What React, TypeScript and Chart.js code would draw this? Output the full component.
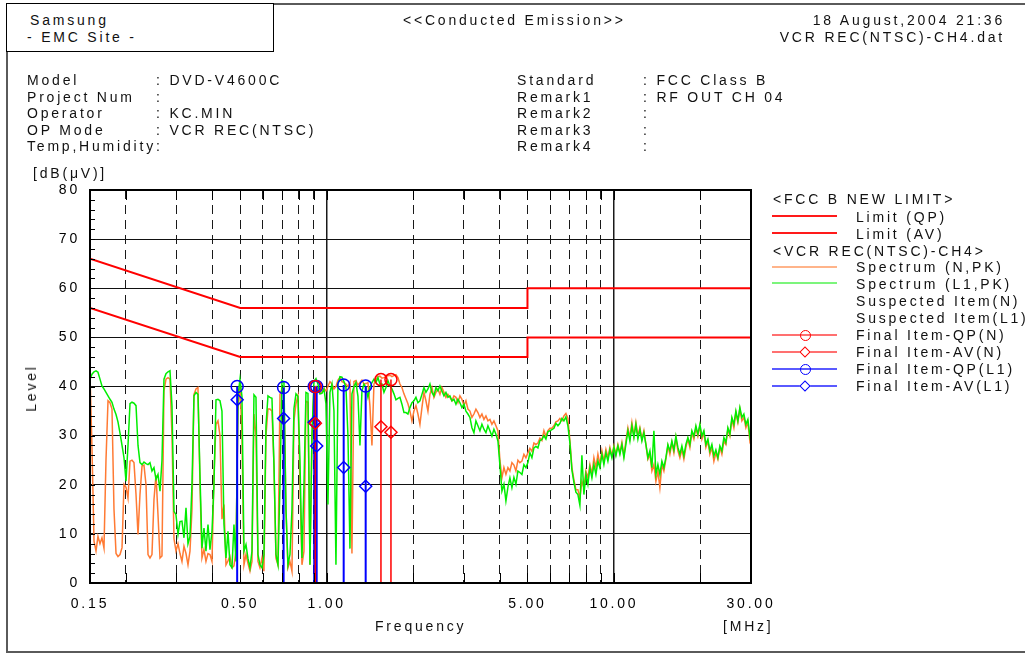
import React, { useEffect, useRef } from 'react';
import { Chart, registerables } from 'chart.js';

Chart.register(...registerables);

const FONT = '"Liberation Sans", Arial, Helvetica, sans-serif';
const SPACING = 2.8;

// ---------- Spectrum data (frequency in MHz, level in dB(uV)) ----------
const freqs = [
  0.1500, 0.1524, 0.1549, 0.1574, 0.1599,
  0.1625, 0.1651, 0.1678, 0.1705, 0.1733,
  0.1761, 0.1789, 0.1818, 0.1848, 0.1877,
  0.1908, 0.1939, 0.1970, 0.2002, 0.2034,
  0.2067, 0.2100, 0.2134, 0.2169, 0.2204,
  0.2239, 0.2276, 0.2312, 0.2350, 0.2388,
  0.2426, 0.2465, 0.2505, 0.2546, 0.2587,
  0.2629, 0.2671, 0.2714, 0.2758, 0.2803,
  0.2848, 0.2894, 0.2941, 0.2988, 0.3037,
  0.3086, 0.3135, 0.3186, 0.3238, 0.3290,
  0.3343, 0.3397, 0.3452, 0.3508, 0.3564,
  0.3622, 0.3680, 0.3740, 0.3800, 0.3862,
  0.3924, 0.3988, 0.4052, 0.4118, 0.4184,
  0.4252, 0.4320, 0.4390, 0.4461, 0.4533,
  0.4606, 0.4681, 0.4756, 0.4833, 0.4911,
  0.4991, 0.5071, 0.5153, 0.5237, 0.5321,
  0.5407, 0.5495, 0.5583, 0.5674, 0.5765,
  0.5858, 0.5953, 0.6049, 0.6147, 0.6246,
  0.6347, 0.6450, 0.6554, 0.6660, 0.6768,
  0.6877, 0.6988, 0.7101, 0.7216, 0.7332,
  0.7451, 0.7571, 0.7693, 0.7818, 0.7944,
  0.8072, 0.8203, 0.8335, 0.8470, 0.8607,
  0.8746, 0.8887, 0.9031, 0.9177, 0.9325,
  0.9475, 0.9629, 0.9784, 0.9942, 1.0103,
  1.0266, 1.0432, 1.0601, 1.0772, 1.0946,
  1.1123, 1.1302, 1.1485, 1.1671, 1.1860,
  1.2051, 1.2245, 1.2444, 1.2645, 1.2849,
  1.3056, 1.3267, 1.3482, 1.3700, 1.3921,
  1.4146, 1.4374, 1.4607, 1.4843, 1.5083,
  1.5326, 1.5574, 1.5825, 1.6081, 1.6341,
  1.6605, 1.6873, 1.7146, 1.7423, 1.7705,
  1.7990, 1.8281, 1.8577, 1.8877, 1.9182,
  1.9491, 1.9806, 2.0126, 2.0452, 2.0782,
  2.1118, 2.1459, 2.1806, 2.2158, 2.2517,
  2.2880, 2.3249, 2.3625, 2.4007, 2.4395,
  2.4789, 2.5189, 2.5597, 2.6011, 2.6431,
  2.6857, 2.7291, 2.7733, 2.8181, 2.8637,
  2.9098, 2.9568, 3.0046, 3.0532, 3.1026,
  3.1526, 3.2035, 3.2553, 3.3080, 3.3614,
  3.4157, 3.4709, 3.5270, 3.5840, 3.6420,
  3.7007, 3.7605, 3.8213, 3.8830, 3.9458,
  4.0094, 4.0742, 4.1401, 4.2070, 4.2750,
  4.3440, 4.4142, 4.4856, 4.5581, 4.6317,
  4.7064, 4.7825, 4.8598, 4.9384, 5.0182,
  5.0991, 5.1815, 5.2653, 5.3504, 5.4369,
  5.5246, 5.6139, 5.7046, 5.7968, 5.8905,
  5.9856, 6.0823, 6.1807, 6.2806, 6.3821,
  6.4850, 6.5898, 6.6963, 6.8046, 6.9146,
  7.0261, 7.1397, 7.2551, 7.3723, 7.4915,
  7.6123, 7.7354, 7.8604, 7.9874, 8.1165,
  8.2475, 8.3808, 8.5163, 8.6540, 8.7938,
  8.9357, 9.0801, 9.2269, 9.3760, 9.5276,
  9.6813, 9.8378, 9.9968, 10.158, 10.323,
  10.489, 10.659, 10.831, 11.006, 11.184,
  11.364, 11.548, 11.735, 11.924, 12.117,
  12.313, 12.512, 12.714, 12.919, 13.128,
  13.340, 13.556, 13.775, 13.997, 14.224,
  14.453, 14.687, 14.924, 15.165, 15.410,
  15.659, 15.912, 16.169, 16.431, 16.696,
  16.966, 17.240, 17.518, 17.802, 18.089,
  18.381, 18.678, 18.980, 19.287, 19.599,
  19.915, 20.237, 20.564, 20.896, 21.234,
  21.577, 21.925, 22.280, 22.640, 23.006,
  23.377, 23.755, 24.139, 24.529, 24.925,
  25.327, 25.737, 26.153, 26.575, 27.005,
  27.441, 27.884, 28.335, 28.793, 29.258,
  29.730, 30.000,
];

const levelL1 = [
  41.5, 42.5, 43.0, 43.2, 42.9,
  41.5, 40.1, 39.5, 38.8, 38.1,
  37.4, 36.8, 35.4, 34.3, 32.8,
  30.5, 28.0, 25.5, 20.7, 28.0,
  36.5, 36.8, 36.6, 36.1, 28.0,
  24.5, 24.1, 24.6, 24.3, 24.1,
  24.5, 22.8, 23.5, 21.1, 22.1,
  18.7, 25.0, 41.5, 42.6, 43.0,
  43.2, 36.0, 14.6, 13.9, 9.9,
  12.5, 12.6, 9.2, 15.3, 8.0,
  9.5, 20.0, 38.1, 38.8, 38.4,
  22.0, 7.1, 11.2, 6.5, 11.9,
  6.8, 10.5, 20.0, 37.3, 37.4,
  37.1, 35.0, 12.0, 5.1, 10.5,
  3.7, 3.1, 11.9, 4.4, 38.0,
  41.5, 38.0, 6.5, 7.8, 5.0,
  3.1, 6.5, 38.3, 37.8, 5.8,
  3.7, 3.1, 5.8, 32.0, 38.1,
  37.8, 37.6, 24.1, 5.8, 3.7,
  20.0, 41.2, 40.8, 15.0, 3.7,
  5.8, 15.0, 35.5, 38.5, 38.0,
  25.0, 5.1, 20.0, 38.8, 38.6,
  3.7, 30.0, 41.0, 41.6, 40.5,
  38.5, 38.6, 39.5, 36.5, 16.0,
  38.8, 40.5, 35.0, 3.7, 40.5,
  42.0, 41.9, 41.0, 39.8, 30.0,
  7.0, 38.5, 40.0, 40.8, 38.0,
  28.0, 39.1, 40.5, 39.8, 37.8,
  39.8, 40.8, 41.5, 40.8, 41.8,
  40.5, 40.5, 38.8, 39.8, 41.2,
  40.1, 39.5, 38.5, 37.3, 37.6,
  37.8, 36.4, 34.7, 34.7, 34.4,
  35.7, 36.7, 37.1, 37.8, 36.7,
  37.1, 38.4, 39.8, 38.8, 39.5,
  40.5, 38.8, 38.1, 39.8, 39.1,
  40.1, 39.1, 38.1, 38.8, 37.8,
  38.1, 37.1, 37.4, 36.4, 37.4,
  36.7, 35.7, 36.4, 35.0, 34.4,
  33.7, 31.6, 30.6, 33.0, 32.0,
  31.0, 32.3, 31.3, 30.6, 32.0,
  31.0, 29.9, 31.3, 30.3, 28.9,
  24.0, 18.7, 20.1, 16.7, 19.5,
  21.4, 19.4, 21.5, 20.1, 22.8,
  22.5, 22.1, 24.1, 23.5, 24.5,
  26.5, 25.5, 27.5, 27.8, 27.5,
  29.0, 29.2, 30.0, 29.3, 30.8,
  31.0, 31.2, 31.5, 32.5, 32.0,
  32.5, 33.5, 33.0, 33.8, 32.0,
  28.5, 23.0, 20.5, 18.5, 18.0,
  15.8, 26.0, 18.0, 22.1, 20.1,
  23.5, 21.4, 24.1, 22.1, 24.8,
  23.5, 26.2, 24.1, 26.5, 24.8,
  27.1, 25.5, 27.6, 25.9, 27.9,
  26.2, 28.2, 25.5, 28.2, 31.0,
  28.9, 32.0, 29.6, 32.3, 29.3,
  31.3, 28.9, 30.6, 28.2, 25.5,
  26.9, 23.5, 31.0, 22.1, 24.1,
  22.1, 24.8, 23.5, 25.5, 28.2,
  26.9, 28.9, 27.1, 29.9, 27.6,
  26.2, 27.9, 25.9, 28.2, 29.6,
  28.2, 31.0, 29.9, 32.0, 30.3,
  32.3, 29.9, 31.0, 28.2, 29.3,
  26.9, 28.2, 25.9, 27.1, 25.5,
  27.9, 26.9, 29.6, 28.6, 31.6,
  30.3, 33.7, 32.3, 35.0, 33.0,
  35.7, 33.7, 34.4, 32.3, 33.3,
  29.9, 31.0,
];

const levelN = [
  42.5, 27.6, 8.5, 6.5, 9.5,
  8.0, 9.2, 7.1, 25.0, 37.1,
  36.7, 35.4, 15.0, 6.0, 5.4,
  5.8, 7.2, 20.1, 19.5, 17.3,
  24.8, 25.0, 24.5, 18.0, 9.9,
  18.0, 23.8, 24.0, 20.0, 5.8,
  5.1, 5.8, 17.0, 22.0, 13.9,
  5.1, 5.5, 39.1, 41.5, 41.8,
  41.5, 30.0, 9.0, 6.5, 8.0,
  6.0, 4.4, 7.5, 6.0, 3.7,
  6.5, 15.0, 38.4, 39.5, 39.8,
  20.0, 5.1, 6.8, 4.4, 6.0,
  5.8, 4.4, 22.0, 32.3, 33.0,
  30.0, 13.0, 16.0, 3.7, 4.5,
  5.4, 3.1, 3.5, 6.5, 35.0,
  40.5, 30.0, 3.7, 5.8, 4.0,
  2.4, 4.4, 34.4, 30.0, 4.4,
  3.1, 5.1, 2.4, 30.0, 35.4,
  35.4, 35.0, 24.1, 5.0, 3.7,
  38.4, 39.5, 39.1, 15.0, 3.1,
  4.4, 2.4, 33.0, 36.5, 38.1,
  20.0, 3.7, 6.5, 37.0, 36.8,
  3.7, 30.0, 39.5, 40.0, 39.0,
  38.6, 39.0, 39.6, 39.1, 40.0,
  41.0, 40.5, 39.5, 40.0, 41.3,
  41.8, 41.0, 40.8, 40.5, 40.0,
  40.9, 6.0, 41.0, 41.2, 40.3,
  40.8, 41.3, 40.5, 40.6, 40.8,
  36.0, 28.0, 40.5, 41.5, 42.0,
  42.1, 41.7, 41.8, 42.0, 42.2,
  42.3, 42.0, 42.2, 42.4, 41.8,
  40.5, 39.8, 38.5, 37.5, 36.5,
  35.0, 33.0, 35.0, 36.1, 34.4,
  32.3, 35.7, 38.8, 37.1, 35.0,
  38.4, 39.8, 37.8, 38.8, 39.5,
  38.4, 39.8, 38.8, 37.8, 38.4,
  37.8, 37.1, 38.1, 37.8, 36.7,
  38.1, 37.4, 36.1, 37.1, 35.4,
  35.0, 33.7, 34.4, 35.4, 34.7,
  33.7, 34.4, 33.3, 34.0, 33.0,
  33.3, 32.3, 33.0, 32.0, 31.0,
  25.0, 21.4, 23.5, 22.1, 23.5,
  22.8, 24.5, 24.0, 22.8, 25.0,
  24.5, 24.8, 26.2, 25.5, 26.5,
  27.4, 26.8, 28.5, 28.2, 28.5,
  29.5, 29.0, 31.0, 29.8, 31.0,
  31.5, 31.5, 32.0, 32.8, 33.0,
  33.5, 33.0, 34.0, 34.5, 33.5,
  29.0, 23.5, 21.0, 19.0, 19.0,
  17.3, 20.7, 19.4, 22.8, 21.4,
  24.1, 22.1, 25.5, 23.5, 26.2,
  24.1, 26.9, 24.8, 27.2, 25.5,
  27.6, 25.9, 27.9, 26.2, 28.2,
  26.5, 28.6, 25.9, 28.9, 31.6,
  29.6, 32.7, 29.9, 32.7, 29.9,
  31.6, 29.3, 31.0, 28.2, 25.2,
  26.2, 22.8, 24.1, 20.7, 22.8,
  19.4, 24.1, 22.8, 25.2, 27.9,
  26.2, 28.6, 26.5, 29.6, 26.9,
  25.5, 27.2, 25.2, 27.6, 29.3,
  27.6, 30.6, 29.3, 31.6, 29.9,
  32.0, 29.3, 30.6, 27.6, 28.9,
  26.2, 27.6, 24.8, 26.5, 25.2,
  27.6, 26.2, 28.9, 28.2, 31.3,
  29.9, 33.3, 31.6, 34.7, 32.7,
  35.4, 33.0, 33.7, 31.6, 32.7,
  28.9, 29.6,
];

// ---------- Limits (FCC Class B) ----------
const limitFreq = [0.15, 0.5, 5, 5, 30];
const limitQP = [66, 56, 56, 60, 60];
const limitAV = [56, 46, 46, 50, 50];

// ---------- Final measured items ----------
const finalFreqN = [0.913, 1.545, 1.674];
const finalQPN = [40.0, 41.4, 41.4];
const finalAVN = [32.5, 31.8, 30.7];
const finalFreqL1 = [0.488, 0.708, 0.905, 0.923, 1.146, 1.367];
const finalQPL1 = [40.0, 39.8, 40.0, 40.0, 40.3, 40.1];
const finalAVL1 = [37.3, 33.5, 32.7, 27.9, 23.5, 19.7];

// ---------- Axes ----------
const xGridTicks = [0.15, 0.2, 0.3, 0.4, 0.5, 0.6, 0.7, 0.8, 0.9, 1, 2, 3, 4, 5, 6, 7, 8, 9, 10, 20, 30];
const xTickLabels: Record<string, string> = {
  '0.15': '0.15', '0.5': '0.50', '1': '1.00', '5': '5.00', '10': '10.00', '30': '30.00',
};
const yMin = 0;
const yMax = 80;

// ---------- Header texts ----------
const infoLeftLabels = ['Model', 'Project Num', 'Operator', 'OP Mode', 'Temp,Humidity'];
const infoLeftValues = [': DVD-V4600C', ':', ': KC.MIN', ': VCR REC(NTSC)', ':'];
const infoRightLabels = ['Standard', 'Remark1', 'Remark2', 'Remark3', 'Remark4'];
const infoRightValues = [': FCC Class B', ': RF OUT CH 04', ':', ':', ':'];

const pts = (xs: number[], ys: number[]) => xs.map((x, i) => ({ x, y: ys[i] }));
const stems = (xs: number[], ys: number[]) =>
  xs.flatMap((x, i) => [{ x, y: 0 }, { x, y: ys[i] }, { x, y: null as any }]);

const framePlugin = {
  id: 'emcFrame',
  beforeDraw(chart: any) {
    (chart.ctx as any).letterSpacing = SPACING + 'px';
  },
  afterDraw(chart: any) {
    const { ctx, chartArea: a, scales } = chart;
    ctx.save();
    ctx.strokeStyle = '#000';
    ctx.lineWidth = 1;
    ctx.beginPath();
    scales.y.ticks.forEach((t: any) => {
      const y = Math.round(scales.y.getPixelForValue(t.value)) + 0.5;
      ctx.moveTo(a.left, y);
      ctx.lineTo(a.left + 5, y);
    });
    scales.x.ticks.forEach((t: any) => {
      const x = Math.round(scales.x.getPixelForValue(t.value)) + 0.5;
      ctx.moveTo(x, a.bottom);
      ctx.lineTo(x, a.bottom - 10);
      ctx.moveTo(x, a.top);
      ctx.lineTo(x, a.top + 10);
    });
    ctx.stroke();
    ctx.lineWidth = 2;
    ctx.strokeRect(a.left, a.top, a.right - a.left, a.bottom - a.top);
    ctx.restore();
    (ctx as any).letterSpacing = '0px';
  },
};

const markerDs = (label: string, xs: number[], ys: number[], color: string, style: string) => ({
  label,
  data: pts(xs, ys),
  showLine: false,
  pointStyle: style,
  pointRadius: 6,
  pointBorderWidth: 1.5,
  pointBorderColor: color,
  pointBackgroundColor: 'rgba(0,0,0,0)',
  borderColor: color,
});

const Txt = ({ x, y, children, style }: any) => (
  <div style={{ position: 'absolute', left: x, top: y - 13, lineHeight: '16px', whiteSpace: 'pre', ...style }}>
    {children}
  </div>
);

const LegLine = ({ y, color, w, marker, mcolor }: any) => (
  <>
    <div style={{ position: 'absolute', left: 772, top: y - w / 2, width: 65, height: w, background: color }} />
    {marker === 'circle' && (
      <div style={{ position: 'absolute', left: 799.5, top: y - 5.5, width: 11, height: 11, boxSizing: 'border-box', border: `1.5px solid ${mcolor}`, borderRadius: '50%' }} />
    )}
    {marker === 'diamond' && (
      <div style={{ position: 'absolute', left: 801, top: y - 4, width: 8, height: 8, boxSizing: 'border-box', border: `1.5px solid ${mcolor}`, transform: 'rotate(45deg)', background: '#fff' }} />
    )}
  </>
);

export default function App() {
  const ref = useRef<HTMLCanvasElement>(null);

  useEffect(() => {
    const datasets: any[] = [
      markerDs('Final Item-QP(N)', finalFreqN, finalQPN, '#FF0000', 'circle'),
      markerDs('Final Item-AV(N)', finalFreqN, finalAVN, '#FF0000', 'rectRot'),
      markerDs('Final Item-QP(L1)', finalFreqL1, finalQPL1, '#0000FF', 'circle'),
      markerDs('Final Item-AV(L1)', finalFreqL1, finalAVL1, '#0000FF', 'rectRot'),
      { label: 'stems N', data: stems(finalFreqN, finalQPN), borderColor: '#FF0000', borderWidth: 1.5, pointRadius: 0, spanGaps: false },
      { label: 'stems L1', data: stems(finalFreqL1, finalQPL1), borderColor: '#0000FF', borderWidth: 2, pointRadius: 0, spanGaps: false },
      { label: 'Limit (QP)', data: pts(limitFreq, limitQP), borderColor: '#FF0000', borderWidth: 2, pointRadius: 0 },
      { label: 'Limit (AV)', data: pts(limitFreq, limitAV), borderColor: '#FF0000', borderWidth: 2, pointRadius: 0 },
      { label: 'Spectrum (L1,PK)', data: pts(freqs, levelL1), borderColor: '#00EE00', borderWidth: 1.5, pointRadius: 0 },
      { label: 'Spectrum (N,PK)', data: pts(freqs, levelN), borderColor: '#FF7A33', borderWidth: 1.5, pointRadius: 0 },
    ];

    const chart = new Chart(ref.current as HTMLCanvasElement, {
      type: 'line',
      data: { datasets },
      options: {
        responsive: false,
        animation: false,
        devicePixelRatio: 1,
        layout: { padding: { left: 0, top: 190, right: 274, bottom: 0 } },
        plugins: { legend: { display: false }, tooltip: { enabled: false } },
        elements: { line: { tension: 0 } },
        scales: {
          x: {
            type: 'logarithmic',
            min: 0.15,
            max: 30,
            afterBuildTicks: (s: any) => {
              s.ticks = xGridTicks.map((v) => ({ value: v }));
            },
            afterFit: (s: any) => {
              s.height = 70;
            },
            ticks: {
              autoSkip: false,
              maxRotation: 0,
              minRotation: 0,
              padding: 13,
              color: '#000',
              font: { family: FONT, size: 14 },
              callback: (v: any) => xTickLabels[String(v)] ?? '',
            },
            grid: {
              drawTicks: false,
              color: (c: any) => {
                const v = c.tick ? c.tick.value : 0;
                return v === 0.15 || v === 30 ? 'rgba(0,0,0,0)' : '#1a1a1a';
              },
              lineWidth: (c: any) => (c.tick && (c.tick.value === 1 || c.tick.value === 10) ? 1.5 : 1),
            },
            border: {
              display: true,
              color: '#000',
              width: 2,
              dash: (c: any) => (c.tick && c.tick.value !== 1 && c.tick.value !== 10 ? [9, 6] : []),
            },
          },
          y: {
            min: yMin,
            max: yMax,
            afterFit: (s: any) => {
              s.width = 90;
            },
            ticks: {
              stepSize: 2,
              autoSkip: false,
              padding: 10,
              color: '#000',
              font: { family: FONT, size: 14 },
              callback: (v: any) => (Math.round(v) % 10 === 0 ? String(Math.round(v)) : ''),
            },
            grid: {
              drawTicks: false,
              color: (c: any) => (c.tick && Math.round(c.tick.value) % 10 === 0 ? '#111' : 'rgba(0,0,0,0)'),
              lineWidth: 1,
            },
            border: { display: true, color: '#000', width: 2 },
          },
        },
      } as any,
      plugins: [framePlugin],
    });
    return () => chart.destroy();
  }, []);

  const rowY = [85, 101.5, 118, 134.5, 151];
  const legendRows = [
    { y: 221.5, text: 'Limit (QP)' },
    { y: 238.5, text: 'Limit (AV)' },
    { y: 272, text: 'Spectrum (N,PK)' },
    { y: 289, text: 'Spectrum (L1,PK)' },
    { y: 306, text: 'Suspected Item(N)' },
    { y: 323, text: 'Suspected Item(L1)' },
    { y: 340, text: 'Final Item-QP(N)' },
    { y: 357, text: 'Final Item-AV(N)' },
    { y: 374, text: 'Final Item-QP(L1)' },
    { y: 391, text: 'Final Item-AV(L1)' },
  ];

  return (
    <div
      style={{
        position: 'fixed', left: 0, top: 0, width: 1025, height: 653, background: '#fff', overflow: 'hidden',
        fontFamily: FONT, fontSize: 14, letterSpacing: SPACING + 'px', color: '#111',
      }}
    >
      <canvas ref={ref} width={1025} height={653} style={{ position: 'absolute', left: 0, top: 0 }} />
      <div style={{ position: 'absolute', left: 6, top: 3, width: 1040, height: 650, boxSizing: 'border-box', border: '2px solid #5a5a5a' }} />
      <div style={{ position: 'absolute', left: 6, top: 3, width: 268, height: 49, boxSizing: 'border-box', border: '1.5px solid #000', background: '#fff' }} />
      <Txt x={30} y={25}>Samsung</Txt>
      <Txt x={27} y={42}>- EMC Site -</Txt>
      <Txt x={403} y={25}>{'<<Conducted Emission>>'}</Txt>
      <div style={{ position: 'absolute', right: 20, top: 12, lineHeight: '16px', whiteSpace: 'pre', textAlign: 'right' }}>18 August,2004 21:36</div>
      <div style={{ position: 'absolute', right: 20, top: 29, lineHeight: '16px', whiteSpace: 'pre', textAlign: 'right' }}>VCR REC(NTSC)-CH4.dat</div>
      {infoLeftLabels.map((t, i) => (
        <Txt key={'ll' + i} x={27} y={rowY[i]}>{t}</Txt>
      ))}
      {infoLeftValues.map((t, i) => (
        <Txt key={'lv' + i} x={156} y={rowY[i]}>{t}</Txt>
      ))}
      {infoRightLabels.map((t, i) => (
        <Txt key={'rl' + i} x={517} y={rowY[i]}>{t}</Txt>
      ))}
      {infoRightValues.map((t, i) => (
        <Txt key={'rv' + i} x={643} y={rowY[i]}>{t}</Txt>
      ))}
      <Txt x={33} y={178}>[dB(μV)]</Txt>
      <div style={{ position: 'absolute', left: 31, top: 388, transform: 'translate(-50%, -50%) rotate(-90deg)', lineHeight: '16px', whiteSpace: 'pre' }}>Level</div>
      <Txt x={375} y={631}>Frequency</Txt>
      <Txt x={723} y={631}>[MHz]</Txt>

      <Txt x={773} y={204}>{'<FCC B NEW LIMIT>'}</Txt>
      <Txt x={773} y={255.5}>{'<VCR REC(NTSC)-CH4>'}</Txt>
      {legendRows.map((r, i) => (
        <Txt key={'lg' + i} x={856} y={r.y}>{r.text}</Txt>
      ))}
      <LegLine y={215.7} color="#FF1A1A" w={2} />
      <LegLine y={232.7} color="#FF1A1A" w={2} />
      <LegLine y={266.5} color="#FFB48A" w={2} />
      <LegLine y={283.3} color="#7CF57C" w={2} />
      <LegLine y={335} color="#FF7070" w={2} marker="circle" mcolor="#FF0000" />
      <LegLine y={352} color="#FF7070" w={2} marker="diamond" mcolor="#FF0000" />
      <LegLine y={369} color="#5A5AFF" w={2} marker="circle" mcolor="#0000FF" />
      <LegLine y={386} color="#5A5AFF" w={2} marker="diamond" mcolor="#0000FF" />
    </div>
  );
}
